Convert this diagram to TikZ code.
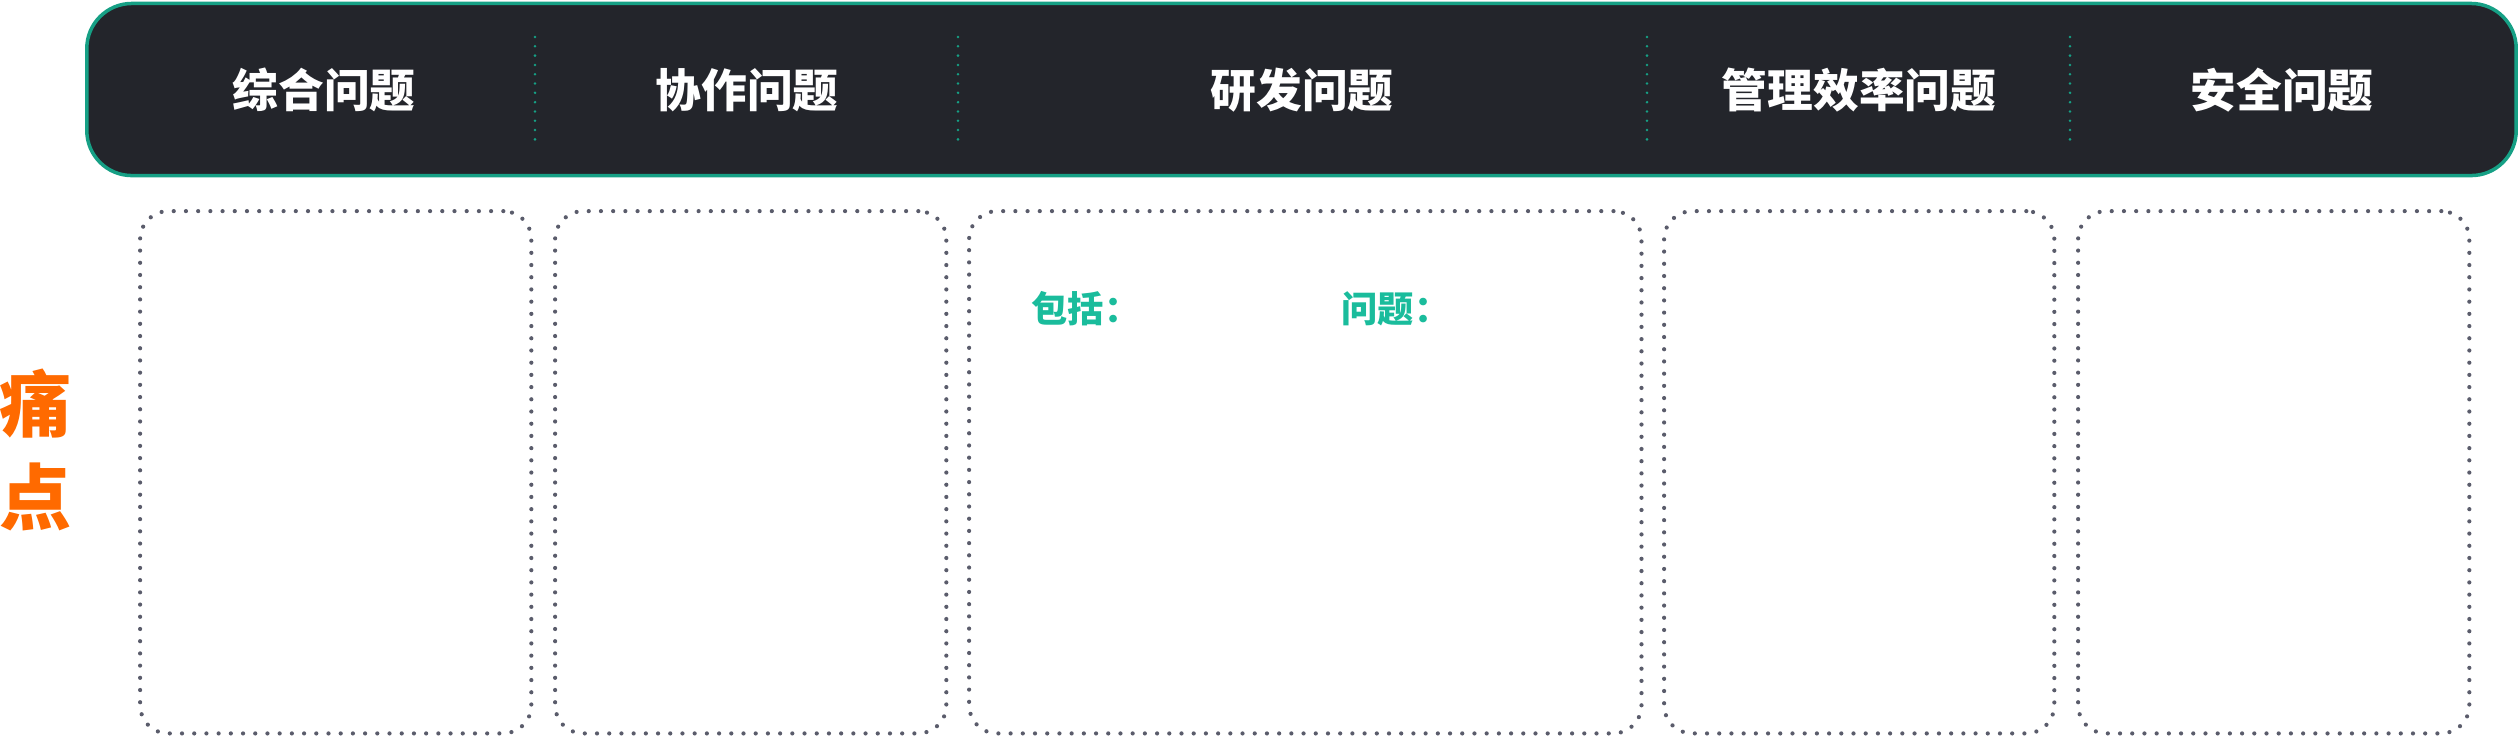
\documentclass[tikz,border=0pt]{standalone}
\usepackage{fontspec}
\setmainfont{Noto Sans CJK SC}
\usepackage{tikz}
\definecolor{fondo}{HTML}{23252B}
\definecolor{verde}{HTML}{16A085}
\definecolor{turquesa}{HTML}{1ABC9C}
\definecolor{gris}{HTML}{5A5C6B}
\definecolor{naranja}{HTML}{FF6A00}
\tikzstyle{barra}=[rectangle, draw=verde, fill=fondo, line width=0.035cm, rounded corners=0.45cm, minimum width=24.28cm, minimum height=1.72cm, inner sep=0pt]
\tikzstyle{titulo}=[text=white, font=\bfseries\fontsize{13pt}{15pt}\selectfont]
\tikzstyle{caja}=[rectangle, draw=gris, line width=0.042cm, line cap=round, dash pattern=on 0pt off 0.122cm, rounded corners=0.28cm, minimum height=5.22cm, inner sep=0pt, anchor=north west]
\tikzstyle{divisor}=[draw=verde, line width=0.028cm, line cap=round, dash pattern=on 0pt off 0.093cm]
\tikzstyle{etiqueta}=[text=turquesa, anchor=west, inner sep=0pt, font=\bfseries\fontsize{10.3pt}{12pt}\selectfont]

\begin{document}
\begin{tikzpicture}[x=0.01cm, y=-0.01cm]
            \useasboundingbox (0,0) rectangle (2520,735);
            % Cabecera
            \node[barra] (barra) at (1301.5, 89.5) {};
            \foreach \x in {535, 958, 1647, 2070}
                \draw[divisor] (\x, 37) -- (\x, 142);
            \node[titulo] (zonghe) at (324, 90) {综合问题};
            \node[titulo] (xiezuo) at (747, 90) {协作问题};
            \node[titulo] (yanfa) at (1302, 90) {研发问题};
            \node[titulo] (guanli) at (1859, 90) {管理效率问题};
            \node[titulo] (anquan) at (2282, 90) {安全问题};
            % Cajas
            \node[caja, minimum width=3.91cm] (c1) at (138, 209) {};
            \node[caja, minimum width=3.91cm] (c2) at (553, 209) {};
            \node[caja, minimum width=6.72cm] (c3) at (967, 209) {};
            \node[caja, minimum width=3.90cm] (c4) at (1662, 209) {};
            \node[caja, minimum width=3.91cm] (c5) at (2076, 209) {};
            % Textos
            \node[etiqueta] (baokuo) at (1031, 309) {包括：};
            \node[etiqueta] (wenti) at (1341, 309) {问题：};
            \node[text=naranja, align=center, inner sep=0pt, font=\bfseries\fontsize{20.5pt}{26.5pt}\selectfont] (tongdian) at (36, 450) {痛\\点};
        \end{tikzpicture}
\end{document}
